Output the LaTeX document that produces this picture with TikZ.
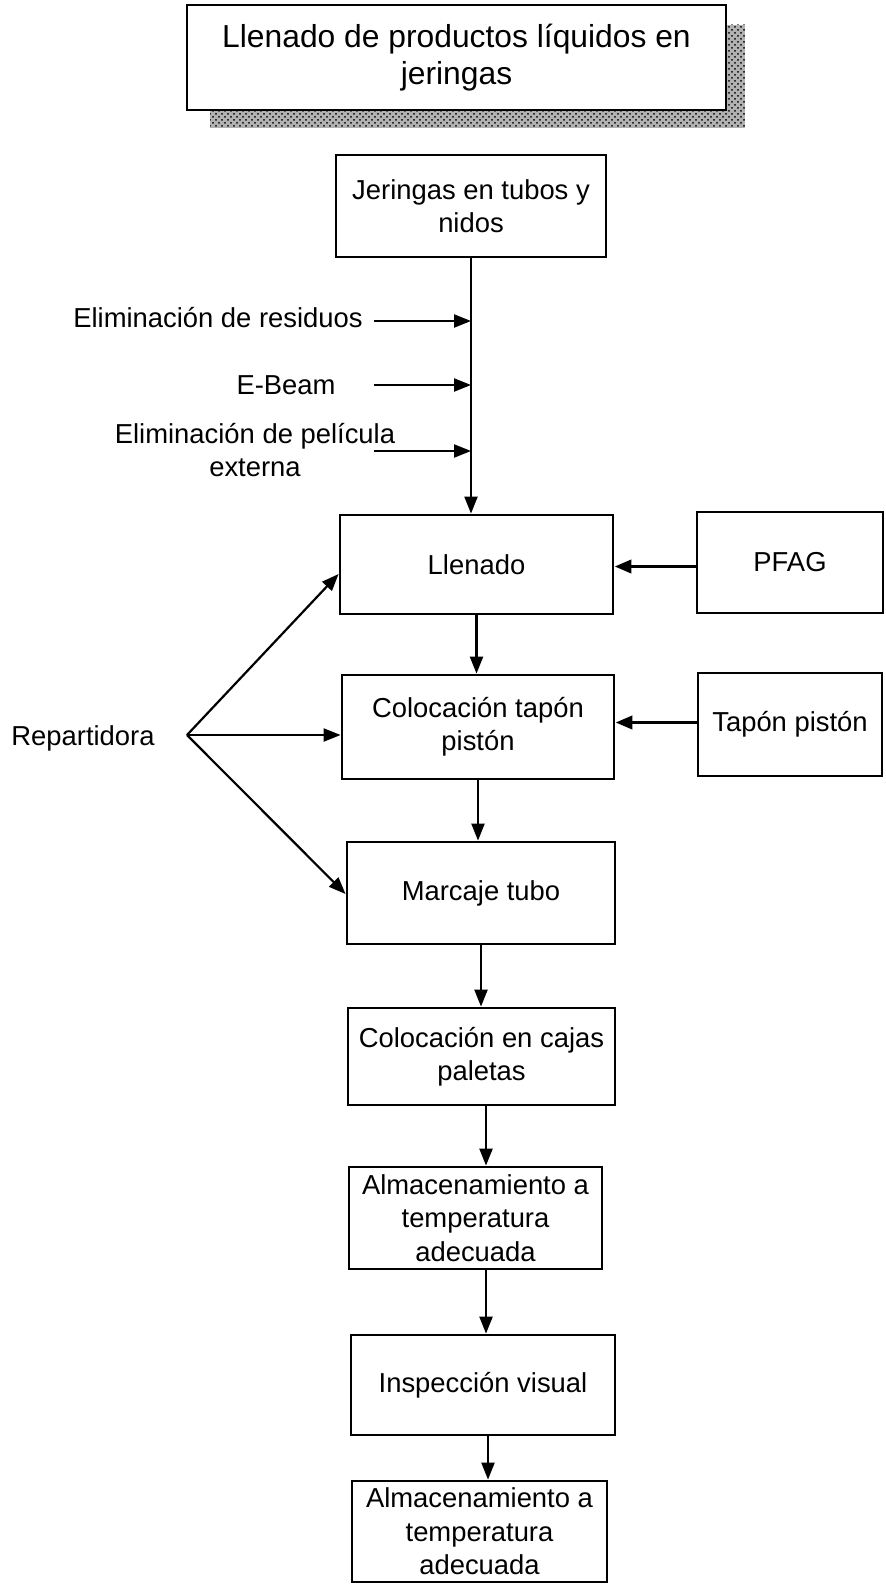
\documentclass[tikz,border=0pt]{standalone}
\usepackage{fontspec}
\setmainfont{Liberation Sans}
\usetikzlibrary{arrows.meta,patterns,calc}
\begin{document}
\begin{tikzpicture}[x=0.5pt,y=-0.5pt,
  box/.style={draw,line width=1.4pt,inner sep=0pt,align=center,
    font=\fontsize{13.7pt}{16.7pt}\selectfont},
  lbl/.style={inner sep=0pt,align=center,font=\fontsize{13.7pt}{16.7pt}\selectfont},
  arr/.style={line width=1.1pt,-{Triangle[length=8.5pt,width=6.5pt]}},
  ln/.style={line width=1.1pt}]
\useasboundingbox (0,0) rectangle (886,1584);
% title with shadow
\fill[black!30] (210,25) rectangle (745,128);
\fill[pattern=crosshatch dots,pattern color=black] (210,25) rectangle (745,128);
\node[box,fill=white,minimum width=269.5pt,minimum height=52.5pt,
  font=\fontsize{15.9pt}{18.2pt}\selectfont] (title) at (456.5,57.5)
  {Llenado de productos líquidos en\\jeringas};
% boxes
\node[box,minimum width=135pt,minimum height=51pt] (jer) at (471,206) {Jeringas en tubos y\\nidos};
\node[box,minimum width=136.5pt,minimum height=49.5pt] (llen) at (476.5,564.5) {Llenado};
\node[box,minimum width=93pt,minimum height=50.5pt] (pfag) at (790,562.5) {PFAG};
\node[box,minimum width=136pt,minimum height=52pt] (col) at (478,727) {Colocación tapón\\pistón};
\node[box,minimum width=92pt,minimum height=51.5pt] (tap) at (790,724.5) {Tapón pistón};
\node[box,minimum width=134pt,minimum height=51pt] (mar) at (481,893) {Marcaje tubo};
\node[box,minimum width=133.5pt,minimum height=48.5pt] (caj) at (481.5,1056.5) {Colocación en cajas\\paletas};
\node[box,minimum width=126.5pt,minimum height=51pt] (alm1) at (475.5,1218) {Almacenamiento a\\temperatura\\adecuada};
\node[box,minimum width=132pt,minimum height=50pt] (insp) at (483,1385) {Inspección visual};
\node[box,minimum width=127.5pt,minimum height=50.5pt] (alm2) at (479.5,1531.5) {Almacenamiento a\\temperatura\\adecuada};
% side labels
\node[lbl] (res) at (218,318) {Eliminación de residuos};
\node[lbl] (ebeam) at (286,385) {E-Beam};
\node[lbl] (pel) at (255,450) {Eliminación de película\\externa};
\node[lbl] (rep) at (83,738) {Repartidora};
% coordinates
\coordinate (s1) at (374,321);
\coordinate (s2) at (374,385);
\coordinate (s3) at (374,451);
\coordinate (b) at (187,735);
% main vertical
\draw[arr] (jer.south) -- (jer.south |- llen.north);
\draw[arr] (s1) -- (s1 -| jer.south);
\draw[arr] (s2) -- (s2 -| jer.south);
\draw[arr] (s3) -- (s3 -| jer.south);
% chain
\draw[arr] (llen.south) -- (llen.south |- col.north);
\draw[arr] (col.south) -- (col.south |- mar.north);
\draw[arr] (mar.south) -- (mar.south |- caj.north);
\draw[arr] ($(caj.south)+(4.5,0)$) -- ($(caj.south |- alm1.north)+(4.5,0)$);
\draw[arr] ($(alm1.south)+(10.5,0)$) -- ($(alm1.south |- insp.north)+(10.5,0)$);
\draw[arr] ($(insp.south)+(5,0)$) -- ($(insp.south |- alm2.north)+(5,0)$);
% side inputs
\draw[arr,line width=1.9pt] ($(pfag.west)+(0,4)$) -- ($(pfag.west -| llen.east)+(0,4)$);
\draw[arr,line width=1.9pt] ($(tap.west)+(0,-2)$) -- ($(tap.west -| col.east)+(0,-2)$);
% repartidora
\draw[arr] (b) -- ($(llen.west)+(0,9.5)$);
\draw[arr] (b) -- ($(col.west)+(0,8)$);
\draw[arr] (b) -- ($(mar.west)+(0,1)$);
\end{tikzpicture}
\end{document}
